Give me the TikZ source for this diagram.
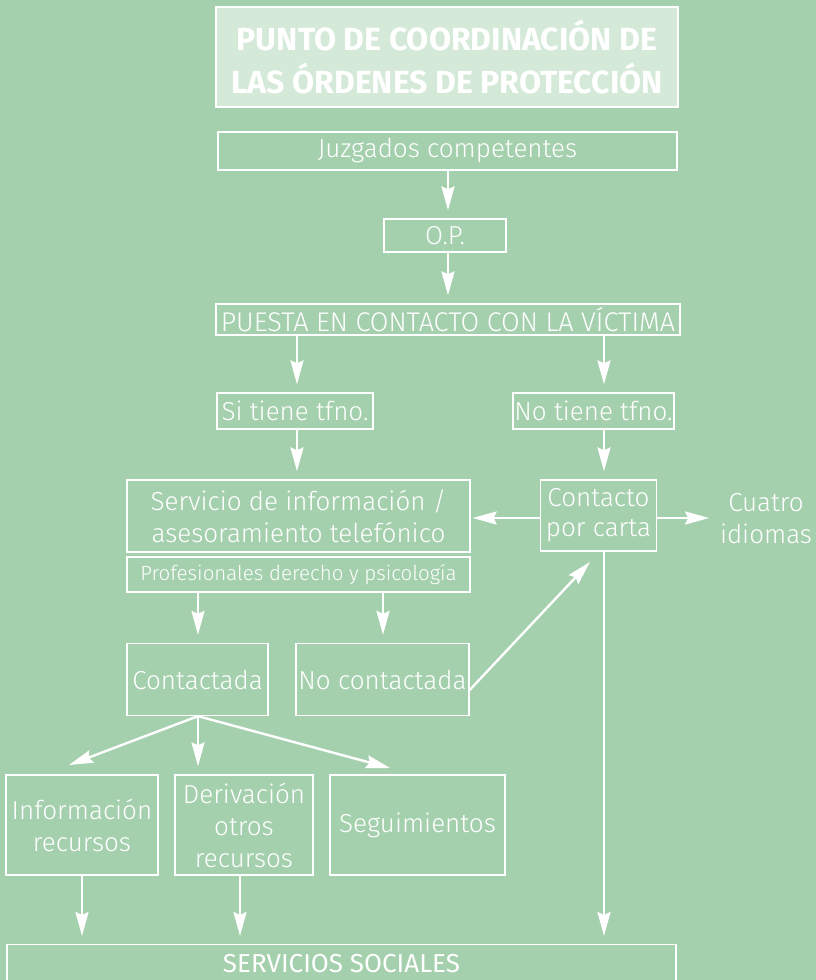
\documentclass[tikz,border=0pt]{standalone}
\usepackage{fontspec}
\setmainfont{Fira Sans}[UprightFont={* Light}, BoldFont={* Bold}]
\newfontfamily\regfont{Fira Sans}
\usetikzlibrary{arrows.meta}
\definecolor{bg}{RGB}{165,208,174}
\definecolor{titlefill}{RGB}{212,233,216}
\tikzset{
  box/.style={draw=white, line width=1.3pt, text=white, inner sep=0pt, align=center, font=\fontsize{26}{32}\selectfont},
  arr/.style={draw=white, line width=2.4pt, -{Stealth[length=24pt, width=13pt, inset=3pt]}, shorten >=8pt},
}
\begin{document}
\begin{tikzpicture}[x=1pt,y=-1pt]
\fill[bg] (0,0) rectangle (816,980);
\useasboundingbox (0,0) rectangle (816,980);
\node[box, fill=titlefill, line width=2.2pt, minimum width=462pt, minimum height=100pt, font=\bfseries\fontsize{32}{43}\selectfont] (title) at (447,57) {PUNTO DE COORDINACIÓN DE\\LAS ÓRDENES DE PROTECCIÓN};
\node[box, minimum width=459pt, minimum height=38pt] (juz) at (447.5,151) {Juzgados competentes};
\node[box, minimum width=122pt, minimum height=33pt] (op) at (445,235.5) {O.P.};
\node[box, minimum width=464pt, minimum height=31pt, font=\fontsize{27}{32}\selectfont] (puesta) at (448,319.5) {PUESTA EN CONTACTO CON LA VÍCTIMA};
\node[box, minimum width=156pt, minimum height=36pt] (si) at (295,411) {Si tiene tfno.};
\node[box, minimum width=161pt, minimum height=36pt] (no) at (593.5,411) {No tiene tfno.};
\node[box, minimum width=343pt, minimum height=72pt] (serv) at (298.5,516) {Servicio de información /\\asesoramiento telefónico};
\node[box, minimum width=343pt, minimum height=35pt, font=\fontsize{20.5}{24}\selectfont] (prof) at (298.5,574.5) {Profesionales derecho y psicología};
\node[box, minimum width=141pt, minimum height=72pt] (cont) at (197.5,679.5) {Contactada};
\node[box, minimum width=173pt, minimum height=72pt] (nocont) at (382.5,679.5) {No contactada};
\node[box, minimum width=116pt, minimum height=71pt, font=\fontsize{26}{30}\selectfont] (carta) at (598.5,515.5) {Contacto\\por carta};
\node[text=white, align=center, inner sep=0pt, font=\fontsize{26}{32}\selectfont] (cuatro) at (766,519) {Cuatro\\idiomas};
\node[box, minimum width=152pt, minimum height=100pt] (info) at (82,825) {Información\\recursos};
\node[box, minimum width=138pt, minimum height=100pt] (deriv) at (244,825) {Derivación\\otros\\recursos};
\node[box, minimum width=175pt, minimum height=100pt] (seg) at (417.5,825) {Seguimientos};
\node[box, minimum width=669pt, minimum height=38pt, anchor=north, font=\regfont\fontsize{26}{30}\selectfont] (ss) at (341.5,944) {SERVICIOS SOCIALES};
% x positions of connectors
\coordinate (xa) at (448,0);
\coordinate (xb) at (297,0);
\coordinate (xc) at (604,0);
\coordinate (xd) at (198,0);
\coordinate (xe) at (383,0);
\coordinate (xf) at (82,0);
\coordinate (xg) at (240,0);
\coordinate (ya) at (0,518);
\coordinate (yb) at (0,690);
\coordinate (tipdiag) at (590,562);
\coordinate (tipinfo) at (69,765);
\coordinate (tipseg) at (390,768);
\draw[arr] (juz.south -| xa) -- (op.north -| xa);
\draw[arr] (op.south -| xa) -- (puesta.north -| xa);
\draw[arr] (puesta.south -| xb) -- (si.north -| xb);
\draw[arr] (puesta.south -| xc) -- (no.north -| xc);
\draw[arr] (si.south -| xb) -- (serv.north -| xb);
\draw[arr] (no.south -| xc) -- (carta.north -| xc);
\draw[arr] (prof.south -| xd) -- (cont.north -| xd);
\draw[arr] (prof.south -| xe) -- (nocont.north -| xe);
\draw[arr, shorten >=0pt] (carta.west |- ya) -- ([xshift=2pt]serv.east |- ya);
\draw[arr, shorten >=0pt] (carta.east |- ya) -- ([xshift=52pt]carta.east |- ya);
\draw[arr, shorten >=0pt] (nocont.east |- yb) -- (tipdiag);
\draw[arr] (carta.south -| xc) -- (ss.north -| xc);
\draw[arr, shorten >=0pt] (cont.south -| xd) -- (tipinfo);
\draw[arr] (cont.south -| xd) -- (info.north -| xd);
\draw[arr, shorten >=0pt] (cont.south -| xd) -- (tipseg);
\draw[arr] (info.south -| xf) -- (ss.north -| xf);
\draw[arr] (deriv.south -| xg) -- (ss.north -| xg);
\end{tikzpicture}
\end{document}
